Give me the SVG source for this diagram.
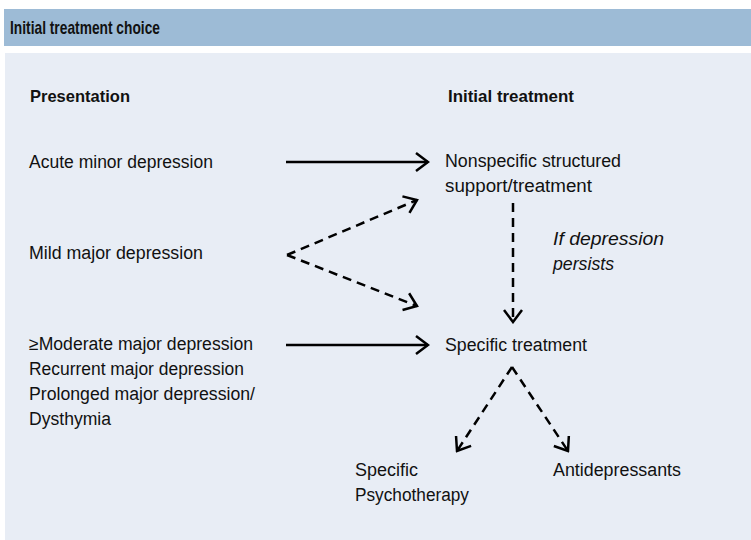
<svg xmlns="http://www.w3.org/2000/svg" width="751" height="540" viewBox="0 0 751 540">
<style>
text{font-family:"Liberation Sans",Arial,sans-serif;fill:#111;}
.t{font-size:18px;}
.b{font-size:17px;font-weight:bold;}
.i{font-size:18px;font-style:italic;}
.ttl{font-size:19px;font-weight:bold;}
.c{fill:none;stroke:#000;stroke-width:2.5;}
.d{stroke-dasharray:9 6;}
</style>
<defs>
<marker id="ah" markerUnits="userSpaceOnUse" viewBox="-14 -11 16 22" refX="0" refY="0" markerWidth="16" markerHeight="22" orient="auto">
<path d="M-12,-9 L0,0 L-12,9" fill="none" stroke="#000" stroke-width="2.5"/>
</marker>
</defs>
<rect x="0" y="0" width="751" height="540" fill="#ffffff"/>
<rect x="4" y="9" width="747" height="37" fill="#9dbbd6"/>
<rect x="5" y="53" width="746" height="487" fill="#e8edf5"/>
<g id="title"><text class="ttl" x="10" y="34" textLength="150" lengthAdjust="spacingAndGlyphs">Initial treatment choice</text></g>
<g id="hdr-presentation"><text class="b" x="30" y="102" textLength="100" lengthAdjust="spacingAndGlyphs">Presentation</text></g>
<g id="hdr-initial"><text class="b" x="448" y="102" textLength="126" lengthAdjust="spacingAndGlyphs">Initial treatment</text></g>
<g id="acute"><text class="t" x="29" y="168" textLength="184" lengthAdjust="spacingAndGlyphs">Acute minor depression</text></g>
<g id="mild"><text class="t" x="29" y="259" textLength="174" lengthAdjust="spacingAndGlyphs">Mild major depression</text></g>
<g id="moderate">
<text class="t" x="29" y="350" textLength="224" lengthAdjust="spacingAndGlyphs">≥Moderate major depression</text>
<text class="t" x="29" y="375" textLength="215" lengthAdjust="spacingAndGlyphs">Recurrent major depression</text>
<text class="t" x="29" y="400" textLength="226" lengthAdjust="spacingAndGlyphs">Prolonged major depression/</text>
<text class="t" x="29" y="425" textLength="82" lengthAdjust="spacingAndGlyphs">Dysthymia</text>
</g>
<g id="nonspecific">
<text class="t" x="445" y="167" textLength="176" lengthAdjust="spacingAndGlyphs">Nonspecific structured</text>
<text class="t" x="445" y="192" textLength="147" lengthAdjust="spacingAndGlyphs">support/treatment</text>
</g>
<g id="persists">
<text class="i" x="553" y="245" textLength="111" lengthAdjust="spacingAndGlyphs">If depression</text>
<text class="i" x="553" y="270" textLength="61" lengthAdjust="spacingAndGlyphs">persists</text>
</g>
<g id="specific"><text class="t" x="445" y="351" textLength="142" lengthAdjust="spacingAndGlyphs">Specific treatment</text></g>
<g id="psychotherapy">
<text class="t" x="355" y="476" textLength="63" lengthAdjust="spacingAndGlyphs">Specific</text>
<text class="t" x="355" y="501" textLength="114" lengthAdjust="spacingAndGlyphs">Psychotherapy</text>
</g>
<g id="antidepressants"><text class="t" x="553" y="476" textLength="128" lengthAdjust="spacingAndGlyphs">Antidepressants</text></g>
<g id="connectors">
<line class="c" x1="286" y1="162" x2="428" y2="162" marker-end="url(#ah)"/>
<line class="c d" x1="287" y1="255" x2="417" y2="200" marker-end="url(#ah)"/>
<line class="c d" x1="287" y1="255" x2="417" y2="306" marker-end="url(#ah)"/>
<line class="c" x1="286" y1="345" x2="428" y2="345" marker-end="url(#ah)"/>
<line class="c d" x1="513" y1="203" x2="513" y2="322" marker-end="url(#ah)"/>
<line class="c d" x1="512" y1="367" x2="457" y2="451" marker-end="url(#ah)"/>
<line class="c d" x1="512" y1="367" x2="568" y2="451" marker-end="url(#ah)"/>
</g>
</svg>
